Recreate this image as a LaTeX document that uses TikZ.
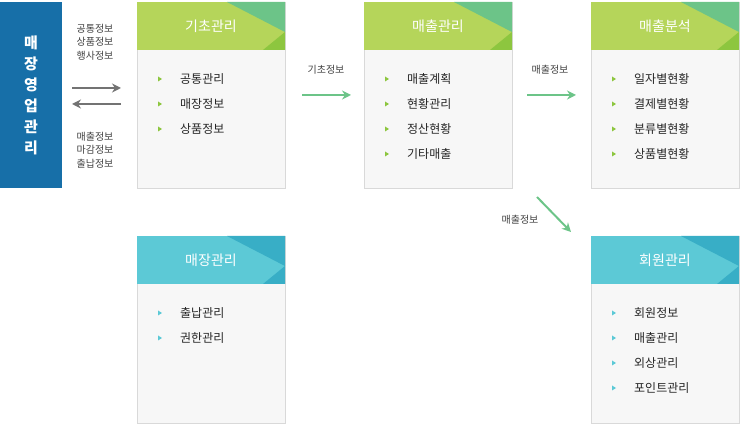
\documentclass[tikz,border=0pt]{standalone}
\usepackage{fontspec}
\setmainfont{Noto Sans CJK KR}
\usetikzlibrary{arrows.meta}
\definecolor{gbar}{HTML}{B5D55A}
\definecolor{gtri}{HTML}{6CC488}
\definecolor{gtrb}{HTML}{8DC63F}
\definecolor{tbar}{HTML}{5CC9D6}
\definecolor{ttri}{HTML}{38AEC6}
\definecolor{navy}{HTML}{176FA8}
\definecolor{arrg}{HTML}{6CC488}
\tikzset{
  panel/.style={draw=black!15,fill=black!3},
  item/.style={anchor=west,font=\fontsize{12}{14}\selectfont,text=black!85,inner sep=0pt},
  head/.style={font=\fontsize{14}{16}\selectfont,text=white},
  small/.style={font=\fontsize{10}{13.5}\selectfont,text=black!75,align=center,inner sep=1pt},
  garrow/.style={draw=arrg,line width=2pt,-{Stealth[length=9pt,width=9pt]}},
  grarrow/.style={draw=black!55,line width=2pt,-{Stealth[length=9pt,width=9pt]}},
}
% box: x, y, width, height, bar colour, tri colour, tri2 colour, name, title
\newcommand\panelbox[9]{%
  \draw[panel] (#1,#2) rectangle ++(#3,#4);
  \fill[#5] (#1,#2) rectangle ++(#3,48);
  \fill[#6] ({#1+#3-58},#2) -- ({#1+#3},#2) -- ({#1+#3},{#2+30}) -- cycle;
  \fill[#7] ({#1+#3},{#2+30}) -- ({#1+#3},{#2+48}) -- ({#1+#3-22},{#2+48}) -- cycle;
  \node[head] (#8) at ({#1+#3/2},{#2+24}) {#9};}
% items: x, first y, name, bullet colour, list
\newcommand\bullets[5]{%
  \foreach \t [count=\i] in {#5} {
    \fill[#4] ({#1+21},{#2+(\i-1)*25-2.5}) -- ++(0,5) -- ++(4,-2.5) -- cycle;
    \node[item] (#3\i) at ({#1+43},{#2+(\i-1)*25}) {\t};}}
\begin{document}
\begin{tikzpicture}[x=1pt,y=-1pt]
\useasboundingbox (0,0) rectangle (740,427);
% left title
\fill[navy] (0,2) rectangle (62,188);
\node[font=\fontsize{15}{21}\selectfont\bfseries,text=white,align=center] (store) at (31,95) {매\\장\\영\\업\\관\\리};
% panels
\panelbox{137}{2}{148}{186}{gbar}{gtri}{gtrb}{base}{기초관리}
\panelbox{364}{2}{148}{186}{gbar}{gtri}{gtrb}{sale}{매출관리}
\panelbox{591}{2}{148}{186}{gbar}{gtri}{gtrb}{anal}{매출분석}
\panelbox{137}{236}{148}{187}{tbar}{ttri}{ttri}{shop}{매장관리}
\panelbox{591}{236}{148}{187}{tbar}{ttri}{ttri}{memb}{회원관리}
% lists
\bullets{137}{79}{b}{gtrb}{공통관리,매장정보,상품정보}
\bullets{364}{79}{s}{gtrb}{매출계획,현황관리,정산현황,기타매출}
\bullets{591}{79}{a}{gtrb}{일자별현황,결제별현황,분류별현황,상품별현황}
\bullets{137}{313}{p}{tbar}{출납관리,권한관리}
\bullets{591}{313}{m}{tbar}{회원정보,매출관리,외상관리,포인트관리}
% arrows and labels
\coordinate (l1) at (72,88); \coordinate (r1) at (121,88);
\coordinate (l2) at (72,104); \coordinate (r2) at (121,104);
\draw[grarrow] (l1) -- (r1);
\draw[grarrow] (r2) -- (l2);
\node[small] (inl) at (95,42) {공통정보\\상품정보\\행사정보};
\node[small] (outl) at (95,150) {매출정보\\마감정보\\출납정보};
\coordinate (a1) at (302,95); \coordinate (a2) at (351,95);
\draw[garrow] (a1) -- (a2);
\node[small] (lab1) at (326,70) {기초정보};
\coordinate (c1) at (527,95); \coordinate (c2) at (576,95);
\draw[garrow] (c1) -- (c2);
\node[small] (lab2) at (550,70) {매출정보};
\coordinate (d1) at (537,197); \coordinate (d2) at (571,232);
\draw[garrow] (d1) -- (d2);
\node[small] (lab3) at (520,220) {매출정보};
\end{tikzpicture}
\end{document}
